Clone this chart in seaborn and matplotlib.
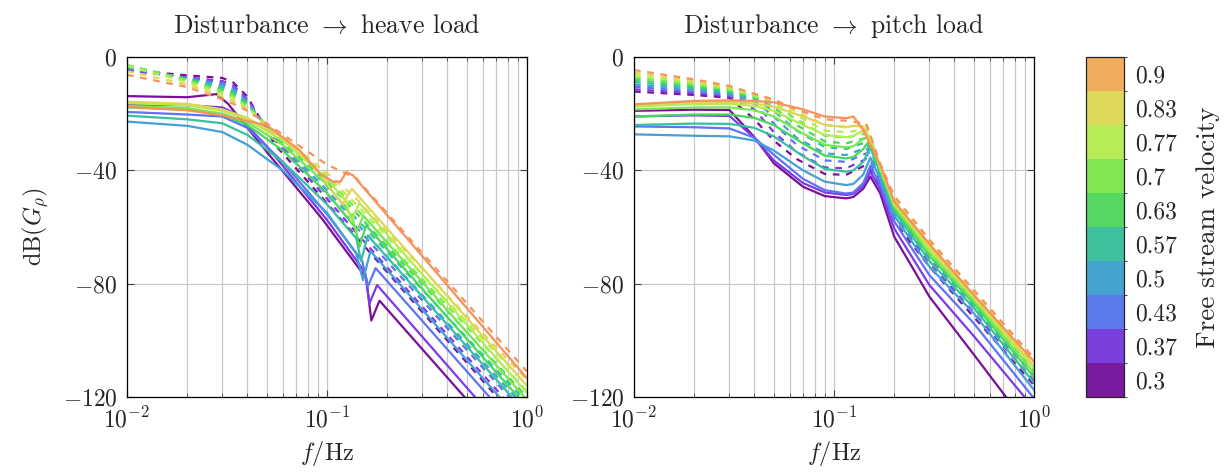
import numpy as np
import pandas as pd
import matplotlib
matplotlib.use("Agg")
import matplotlib.pyplot as plt
import seaborn as sns
from matplotlib.colors import ListedColormap, BoundaryNorm
from matplotlib.cm import ScalarMappable
from matplotlib.ticker import LogLocator, NullFormatter, FixedLocator, FixedFormatter

# ---------------- data ----------------
velocities = [0.3, 0.367, 0.433, 0.5, 0.567, 0.633, 0.7, 0.767, 0.833, 0.9]
velocity_labels = ["0.3", "0.37", "0.43", "0.5", "0.57", "0.63", "0.7", "0.77", "0.83", "0.9"]
line_colors = ["#7b0f9a", "#7e3ae6", "#5f73f5", "#43a0d8", "#35c0a0",
               "#45d85a", "#78e850", "#b5ec50", "#dcd855", "#f7925a"]
bar_colors = ["#7a1a9e", "#7940de", "#5b7bec", "#46a3d1", "#3fc19f",
              "#55d761", "#80e652", "#b6ec57", "#dcd95c", "#f0ae5c"]

# heave load, solid curves (own frequency breakpoints per curve)
heave_solid_f = [
    [0.01, 0.02, 0.028, 0.032, 0.05, 0.094, 0.157, 0.1666, 0.183, 1.0],
    [0.01, 0.02, 0.03, 0.035, 0.05, 0.1, 0.155, 0.163, 0.178, 1.0],
    [0.01, 0.02, 0.03, 0.04, 0.06, 0.1, 0.15, 0.16, 0.175, 1.0],
    [0.01, 0.02, 0.03, 0.04, 0.06, 0.1, 0.14, 0.1514, 0.165, 1.0],
    [0.01, 0.02, 0.03, 0.04, 0.06, 0.1, 0.14, 0.148, 0.16, 1.0],
    [0.01, 0.02, 0.03, 0.04, 0.06, 0.1, 0.138, 0.145, 0.157, 1.0],
    [0.01, 0.02, 0.03, 0.04, 0.06, 0.1, 0.133, 0.14, 0.152, 1.0],
    [0.01, 0.02, 0.03, 0.04, 0.06, 0.1, 0.125, 0.132, 0.145, 1.0],
    [0.01, 0.02, 0.03, 0.04, 0.06, 0.09, 0.108, 0.12, 0.133, 1.0],
    [0.01, 0.02, 0.03, 0.05, 0.073, 0.092, 0.108, 0.117, 0.125, 0.135, 1.0],
]
heave_solid_db = [
    [-13.8, -14.2, -13.1, -16.5, -33.5, -56.9, -78.0, -93.0, -86.0, -145.0],
    [-16.8, -17.0, -17.8, -20.0, -31.5, -57.5, -76.0, -87.0, -80.5, -141.0],
    [-19.4, -20.3, -21.0, -25.0, -37.0, -55.5, -72.0, -81.0, -74.5, -135.0],
    [-22.8, -24.3, -26.5, -31.0, -40.0, -55.0, -69.4, -78.8, -68.5, -131.0],
    [-20.7, -22.0, -23.4, -27.5, -37.0, -52.0, -64.0, -72.0, -63.0, -126.0],
    [-17.8, -18.6, -20.3, -24.0, -33.0, -48.0, -60.0, -67.0, -59.5, -123.5],
    [-17.3, -18.0, -20.0, -23.0, -31.0, -45.0, -56.0, -62.0, -56.0, -121.0],
    [-16.3, -17.0, -19.0, -22.0, -29.5, -43.0, -51.0, -58.0, -51.5, -118.5],
    [-15.8, -16.5, -18.5, -21.5, -28.5, -40.0, -48.0, -51.8, -46.5, -116.0],
    [-17.6, -18.8, -20.6, -24.1, -32.9, -41.2, -44.1, -43.9, -40.6, -41.8, -113.4],
]

# heave load, dashed curves (shared frequency breakpoints)
heave_dashed_f = [0.01, 0.02, 0.03, 0.034, 0.04, 0.055, 0.1, 0.14, 1.0]
heave_dashed_db = [
    [-4.5, -6.5, -7.4, -9.0, -14.0, -31.0, -51.6, -63.5, -132.0],
    [-4.8, -7.2, -8.5, -10.0, -15.0, -29.5, -50.0, -62.0, -129.5],
    [-4.2, -7.5, -9.3, -10.8, -15.5, -29.0, -48.5, -60.0, -127.0],
    [-3.8, -7.6, -10.0, -11.5, -16.0, -28.5, -47.0, -58.5, -124.5],
    [-3.4, -7.7, -10.8, -12.3, -16.5, -28.0, -45.5, -57.0, -122.0],
    [-3.0, -7.8, -11.5, -13.0, -17.0, -27.5, -44.0, -55.0, -120.0],
    [-2.8, -8.2, -12.3, -13.8, -17.5, -27.0, -43.0, -53.5, -118.0],
    [-3.2, -8.8, -13.0, -14.5, -18.0, -26.5, -42.0, -52.0, -116.0],
    [-5.0, -9.7, -14.0, -15.5, -18.5, -26.0, -41.0, -50.0, -114.0],
    [-6.3, -10.6, -15.0, -16.5, -19.0, -25.5, -38.0, -42.8, -111.0],
]

# pitch load, solid curves (shared frequency breakpoints)
pitch_solid_f = [0.01, 0.02, 0.03, 0.04, 0.05, 0.07, 0.09, 0.115, 0.125, 0.14,
                 0.152, 0.17, 0.2, 0.25, 0.3, 0.5, 1.0]
pitch_solid_db = [
    [-19.0, -18.6, -18.7, -28.3, -37.5, -45.8, -49.1, -49.9, -49.4, -46.5, -42.2, -48.0, -63.4, -75.0, -84.6, -105.0, -133.0],
    [-21.0, -20.6, -20.8, -28.5, -36.5, -44.5, -47.8, -48.7, -48.3, -45.5, -40.5, -46.5, -60.5, -71.5, -80.5, -98.5, -124.0],
    [-24.5, -24.8, -25.2, -28.5, -34.5, -43.0, -47.0, -48.2, -47.8, -44.5, -38.5, -45.0, -58.0, -68.5, -77.0, -94.0, -120.5],
    [-27.3, -27.8, -28.0, -29.5, -33.0, -40.0, -44.0, -45.2, -44.8, -41.5, -35.5, -43.0, -56.0, -66.0, -74.0, -90.5, -117.5],
    [-24.0, -23.5, -23.6, -25.0, -28.0, -35.0, -39.5, -40.5, -40.0, -37.0, -32.0, -41.0, -54.5, -64.0, -72.0, -88.5, -115.0],
    [-21.0, -20.3, -20.3, -21.5, -24.0, -30.5, -34.8, -35.8, -35.3, -32.5, -29.0, -40.0, -53.5, -62.5, -70.3, -87.0, -113.0],
    [-18.5, -17.8, -17.8, -18.8, -21.0, -27.0, -31.0, -31.9, -31.5, -29.0, -28.0, -39.5, -52.5, -61.5, -69.0, -86.0, -111.5],
    [-17.5, -16.6, -16.5, -17.3, -19.0, -24.0, -27.5, -28.3, -27.8, -26.0, -28.5, -39.0, -52.0, -60.5, -68.0, -85.0, -110.0],
    [-17.0, -16.0, -15.8, -16.4, -17.5, -21.0, -24.0, -24.8, -24.3, -24.5, -29.5, -38.5, -51.5, -60.0, -67.0, -84.5, -109.0],
    [-16.7, -15.5, -15.3, -15.5, -16.0, -18.5, -21.0, -21.6, -21.0, -25.8, -31.0, -38.0, -51.0, -59.3, -66.0, -84.0, -107.5],
]

# pitch load, dashed curves (shared frequency breakpoints)
pitch_dashed_f = [0.01, 0.02, 0.03, 0.04, 0.05, 0.065, 0.09, 0.115, 0.145, 0.17, 0.2, 0.3, 1.0]
pitch_dashed_db = [
    [-12.2, -13.4, -14.4, -22.0, -29.5, -36.0, -41.3, -41.6, -38.0, -45.0, -58.0, -74.0, -115.8],
    [-11.4, -12.8, -13.9, -18.5, -26.5, -33.5, -39.0, -39.3, -36.0, -44.0, -56.5, -72.5, -114.3],
    [-10.5, -12.2, -13.5, -16.5, -23.5, -31.0, -36.5, -37.0, -34.0, -43.0, -55.5, -71.0, -112.8],
    [-9.7, -11.6, -13.0, -15.5, -21.0, -28.5, -34.0, -34.6, -32.0, -42.0, -54.5, -70.0, -111.8],
    [-8.8, -11.0, -12.5, -14.8, -19.0, -26.0, -31.8, -32.5, -30.0, -41.0, -53.5, -69.0, -110.8],
    [-8.0, -10.4, -12.0, -14.3, -17.8, -24.0, -29.8, -30.5, -28.5, -40.0, -52.5, -68.0, -109.8],
    [-7.2, -9.7, -11.6, -13.9, -16.8, -22.0, -27.8, -28.5, -27.0, -39.0, -51.5, -67.0, -108.8],
    [-6.3, -9.1, -11.1, -13.5, -15.9, -20.5, -26.0, -26.5, -25.5, -38.5, -50.5, -66.0, -107.8],
    [-5.5, -8.5, -10.7, -13.2, -15.4, -19.3, -24.0, -24.6, -24.0, -38.0, -50.0, -65.3, -107.0],
    [-4.6, -7.9, -10.2, -13.0, -15.0, -18.5, -22.0, -22.5, -23.5, -37.5, -49.0, -64.5, -106.3],
]

panel_titles = [r"Disturbance $\rightarrow$ heave load", r"Disturbance $\rightarrow$ pitch load"]
y_ticks = [-120, -80, -40, 0]
y_tick_labels = [r"$-120$", r"$-80$", r"$-40$", r"$0$"]


# ---------------- helpers ----------------
def build_frame(f_data, db_data, kind):
    rows = []
    for i, lab in enumerate(velocity_labels):
        fs = f_data[i] if isinstance(f_data[0], list) else f_data
        for f, d in zip(fs, db_data[i]):
            rows.append({"f": f, "db": d, "v": lab, "kind": kind})
    return pd.DataFrame(rows)


sns.set_style("ticks")
plt.rcParams["font.family"] = "serif"
plt.rcParams["font.serif"] = ["cmr10", "DejaVu Serif"]
plt.rcParams["mathtext.fontset"] = "cm"
plt.rcParams["axes.formatter.use_mathtext"] = True
plt.rcParams["axes.unicode_minus"] = True

W, H = 1231, 473
fig = plt.figure(figsize=(W / 100, H / 100), dpi=100)

def px_axes(x0, y0, x1, y1):
    return fig.add_axes([x0 / W, 1 - y1 / H, (x1 - x0) / W, (y1 - y0) / H])

ax_l = px_axes(127, 57, 527, 397)
ax_r = px_axes(634, 57, 1034, 397)
cax = px_axes(1086, 57, 1124, 397)

palette = dict(zip(velocity_labels, line_colors))
panels = [
    (ax_l, heave_solid_f, heave_solid_db, heave_dashed_f, heave_dashed_db),
    (ax_r, pitch_solid_f, pitch_solid_db, pitch_dashed_f, pitch_dashed_db),
]

for k, (ax, sf, sd, df_, dd) in enumerate(panels):
    frame = pd.concat([build_frame(sf, sd, "solid"), build_frame(df_, dd, "dashed")],
                      ignore_index=True)
    sns.lineplot(data=frame, x="f", y="db", hue="v", style="kind",
                 hue_order=velocity_labels, style_order=["solid", "dashed"],
                 palette=palette, dashes={"solid": "", "dashed": (3, 3)},
                 estimator=None, sort=False, legend=False, lw=1.6, ax=ax)
    ax.set_xscale("log")
    ax.set_xlim(0.01, 1.0)
    ax.set_ylim(-120, 0)
    ax.xaxis.set_major_locator(LogLocator(base=10, numticks=5))
    ax.xaxis.set_minor_locator(LogLocator(base=10, subs=np.arange(2, 10), numticks=20))
    ax.xaxis.set_minor_formatter(NullFormatter())
    ax.yaxis.set_major_locator(FixedLocator(y_ticks))
    ax.yaxis.set_major_formatter(FixedFormatter(y_tick_labels))
    ax.grid(True, which="major", color="#c8c8c8", lw=0.9)
    ax.grid(True, which="minor", axis="x", color="#c8c8c8", lw=0.9)
    ax.set_axisbelow(True)
    ax.tick_params(which="both", direction="in", top=True, right=True,
                   color="#444444", labelsize=17, pad=7)
    ax.tick_params(which="major", length=5, width=0.8)
    ax.tick_params(which="minor", length=3, width=0.6)
    for s in ax.spines.values():
        s.set_color("black")
        s.set_linewidth(0.9)
    ax.set_title(panel_titles[k], fontsize=18.5, pad=17)
    ax.set_xlabel(r"$f/\mathrm{Hz}$", fontsize=17.5, labelpad=5)
    ax.set_ylabel("")

ax_l.set_ylabel(r"$\mathrm{dB}(G_\rho)$", fontsize=17.5, labelpad=8)

# colorbar
bounds = [0.3 - (0.9 - 0.3) / 18 + j * (0.9 - 0.3) / 9 for j in range(11)]
norm = BoundaryNorm(bounds, 10)
sm = ScalarMappable(norm=norm, cmap=ListedColormap(bar_colors))
cb = fig.colorbar(sm, cax=cax)
cb.set_ticks([0.3 + j * (0.9 - 0.3) / 9 for j in range(10)])
cb.set_ticklabels(velocity_labels)
cax.tick_params(direction="in", length=6, width=0.9, color="#888888",
                left=True, right=True, labelsize=17, pad=8)
cb.outline.set_linewidth(0.9)
cb.set_label("Free stream velocity", fontsize=19.5, labelpad=14)

fig.savefig("out.png", dpi=100)
